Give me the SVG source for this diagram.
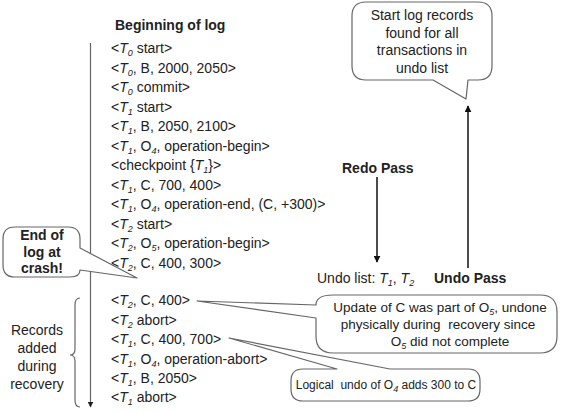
<svg xmlns="http://www.w3.org/2000/svg" width="563" height="412" viewBox="0 0 563 412">
<style>
  text { font-family: "Liberation Sans", Arial, sans-serif; font-size: 14px; fill: #222; }
  .b { font-weight: bold; }
  .it { font-style: italic; }
  .sb { font-style: italic; font-size: 9px; }
  .pre { white-space: pre; }
  .note { font-size: 13.5px; }
  .small { font-size: 12px; }
  .callout { fill: #fff; stroke: #666; stroke-width: 1.2; stroke-linejoin: round; }
  .ln { stroke: #666; stroke-width: 1.2; fill: none; }
  .arr { stroke: #111; stroke-width: 1.5; fill: none; }
</style>
<defs>
  <marker id="ah" viewBox="0 0 10 10" refX="9" refY="5" markerWidth="7" markerHeight="7" markerUnits="userSpaceOnUse" orient="auto">
    <path d="M0,0 L10,5 L0,10 Z" fill="#111"/>
  </marker>
  <marker id="ahg" viewBox="0 0 10 10" refX="9" refY="5" markerWidth="6" markerHeight="6" markerUnits="userSpaceOnUse" orient="auto">
    <path d="M0,0 L10,5 L0,10 Z" fill="#222"/>
  </marker>
</defs>

<g id="connectors">
  <line class="ln" x1="90.5" y1="43" x2="90.5" y2="407" marker-end="url(#ahg)"/>
  <line class="arr" x1="377" y1="177" x2="377" y2="262" marker-end="url(#ah)"/>
  <line class="arr" x1="468" y1="268" x2="468" y2="106" marker-end="url(#ah)"/>
  <path class="ln" d="M80,298 Q75,298 75,305 V349 Q75,355 70,355 Q75,355 75,361 V400 Q75,407 80,407"/>
</g>

<g id="log">
  <text class="b" x="115" y="30">Beginning of log</text>
  <text x="111" y="53">&lt;<tspan class="it">T</tspan><tspan class="sb" dy="3">0</tspan><tspan dy="-3"> start&gt;</tspan></text>
  <text x="111" y="72.5">&lt;<tspan class="it">T</tspan><tspan class="sb" dy="3">0</tspan><tspan dy="-3">, B, 2000, 2050&gt;</tspan></text>
  <text x="111" y="92">&lt;<tspan class="it">T</tspan><tspan class="sb" dy="3">0</tspan><tspan dy="-3"> commit&gt;</tspan></text>
  <text x="111" y="111.5">&lt;<tspan class="it">T</tspan><tspan class="sb" dy="3">1</tspan><tspan dy="-3"> start&gt;</tspan></text>
  <text x="111" y="131">&lt;<tspan class="it">T</tspan><tspan class="sb" dy="3">1</tspan><tspan dy="-3">, B, 2050, 2100&gt;</tspan></text>
  <text x="111" y="150.5">&lt;<tspan class="it">T</tspan><tspan class="sb" dy="3">1</tspan><tspan dy="-3">, O</tspan><tspan class="sb" dy="3">4</tspan><tspan dy="-3">, operation-begin&gt;</tspan></text>
  <text x="111" y="170">&lt;checkpoint {<tspan class="it">T</tspan><tspan class="sb" dy="3">1</tspan><tspan dy="-3">}&gt;</tspan></text>
  <text x="111" y="189.5">&lt;<tspan class="it">T</tspan><tspan class="sb" dy="3">1</tspan><tspan dy="-3">, C, 700, 400&gt;</tspan></text>
  <text x="111" y="209">&lt;<tspan class="it">T</tspan><tspan class="sb" dy="3">1</tspan><tspan dy="-3">, O</tspan><tspan class="sb" dy="3">4</tspan><tspan dy="-3">, operation-end, (C, +300)&gt;</tspan></text>
  <text x="111" y="228.5">&lt;<tspan class="it">T</tspan><tspan class="sb" dy="3">2</tspan><tspan dy="-3"> start&gt;</tspan></text>
  <text x="111" y="248">&lt;<tspan class="it">T</tspan><tspan class="sb" dy="3">2</tspan><tspan dy="-3">, O</tspan><tspan class="sb" dy="3">5</tspan><tspan dy="-3">, operation-begin&gt;</tspan></text>
  <text x="111" y="267.5">&lt;<tspan class="it">T</tspan><tspan class="sb" dy="3">2</tspan><tspan dy="-3">, C, 400, 300&gt;</tspan></text>

  <text x="111" y="305">&lt;<tspan class="it">T</tspan><tspan class="sb" dy="3">2</tspan><tspan dy="-3">, C, 400&gt;</tspan></text>
  <text x="111" y="324.5">&lt;<tspan class="it">T</tspan><tspan class="sb" dy="3">2</tspan><tspan dy="-3"> abort&gt;</tspan></text>
  <text x="111" y="344">&lt;<tspan class="it">T</tspan><tspan class="sb" dy="3">1</tspan><tspan dy="-3">, C, 400, 700&gt;</tspan></text>
  <text x="111" y="363.5">&lt;<tspan class="it">T</tspan><tspan class="sb" dy="3">1</tspan><tspan dy="-3">, O</tspan><tspan class="sb" dy="3">4</tspan><tspan dy="-3">, operation-abort&gt;</tspan></text>
  <text x="111" y="383">&lt;<tspan class="it">T</tspan><tspan class="sb" dy="3">1</tspan><tspan dy="-3">, B, 2050&gt;</tspan></text>
  <text x="111" y="402">&lt;<tspan class="it">T</tspan><tspan class="sb" dy="3">1</tspan><tspan dy="-3"> abort&gt;</tspan></text>
</g>

<g id="records-label">
  <text x="37" y="335" text-anchor="middle">Records</text>
  <text x="37" y="353" text-anchor="middle">added</text>
  <text x="37" y="371" text-anchor="middle">during</text>
  <text x="37" y="389" text-anchor="middle">recovery</text>
</g>

<g id="end-of-log">
  <path class="callout" d="M15,227 H68 Q80,227 80,239 V248 L137,278 L80,270 Q80,277 70,277 H15 Q3,277 3,265 V239 Q3,227 15,227 Z"/>
  <text class="b" x="42" y="240" text-anchor="middle">End of</text>
  <text class="b" x="42" y="257" text-anchor="middle">log at</text>
  <text class="b" x="42" y="273" text-anchor="middle">crash!</text>
</g>

<g id="start-records">
  <path class="callout" d="M366,2 H478 Q492,2 492,16 V66 Q492,80 478,80 H468 L466,99 L433,80 H366 Q352,80 352,66 V16 Q352,2 366,2 Z"/>
  <text x="422" y="20" text-anchor="middle">Start log records</text>
  <text x="422" y="37.5" text-anchor="middle">found for all</text>
  <text x="422" y="55" text-anchor="middle">transactions in</text>
  <text x="422" y="72.5" text-anchor="middle">undo list</text>
</g>

<g id="redo-pass">
  <text class="b" x="342" y="173">Redo Pass</text>
</g>

<g id="undo-list">
  <text x="317" y="283">Undo list: <tspan class="it">T</tspan><tspan class="sb" dy="3">1</tspan><tspan dy="-3">, </tspan><tspan class="it">T</tspan><tspan class="sb" dy="3">2</tspan></text>
</g>

<g id="undo-pass">
  <text class="b" x="434" y="283">Undo Pass</text>
</g>

<g id="update-note">
  <path class="callout" d="M333,295 H540 Q557,295 557,312 V336 Q557,353 540,353 H333 Q316,353 316,336 V318 L197,301 L316,305 Q316,295 333,295 Z"/>
  <text class="note" x="440" y="312" text-anchor="middle">Update of C was part of O<tspan class="sb" dy="2.5">5</tspan><tspan dy="-2.5">, undone</tspan></text>
  <text class="note pre" x="438" y="329" text-anchor="middle">physically during  recovery since</text>
  <text class="note" x="450" y="346" text-anchor="middle">O<tspan class="sb" dy="2.5">5</tspan><tspan dy="-2.5"> did not complete</tspan></text>
</g>

<g id="logical-note">
  <path class="callout" d="M303,369 H337 L229,338 L390,369 H468 Q480,369 480,381 V389 Q480,401 468,401 H303 Q291,401 291,389 V381 Q291,369 303,369 Z"/>
  <text class="small pre" x="386" y="389" text-anchor="middle">Logical  undo of O<tspan class="sb" dy="2.5">4</tspan><tspan dy="-2.5"> adds 300 to C</tspan></text>
</g>
</svg>
